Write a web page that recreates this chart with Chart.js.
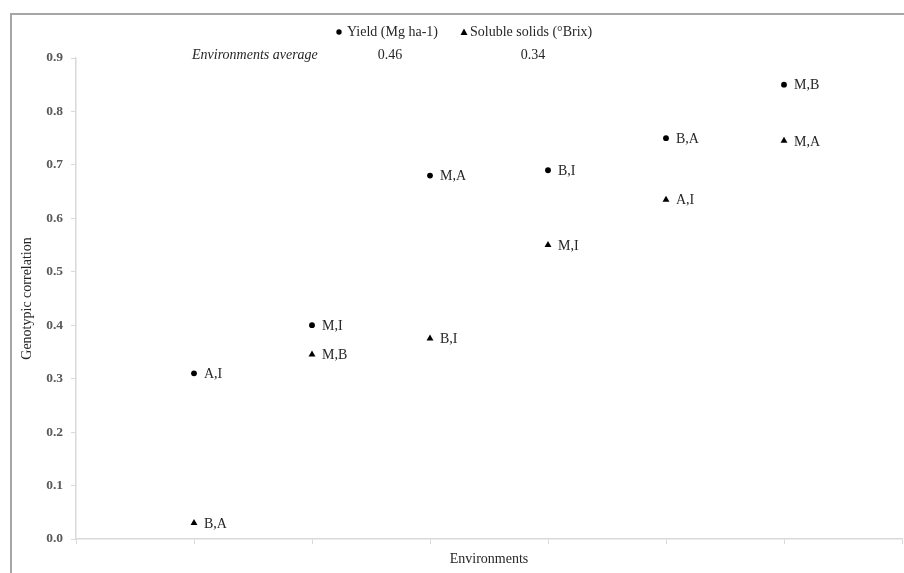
<!DOCTYPE html>
<html>
<head>
<meta charset="utf-8">
<script src="https://cdn.jsdelivr.net/npm/chart.js@4.4.1/dist/chart.umd.min.js"></script>
<style>
    html, body { margin: 0; padding: 0; background: #fff; overflow: hidden; }
    #moldura {
        position: absolute; left: 10px; top: 13px; width: 1000px; height: 700px;
        border-top: 2px solid #a6a6a6; border-left: 2px solid #a6a6a6;
    }
    #wrap { position: absolute; left: 0; top: 0; width: 906px; height: 573px; }
</style>
</head>
<body>
<div id="moldura"></div>
<div id="wrap"><canvas id="grafico"></canvas></div>
<script>
// Ambientes no eixo x (posições 1..6)
const posicoes = [1, 2, 3, 4, 5, 6];

// Produtividade (Mg ha-1)
const rotulosProd = ['A,I', 'M,I', 'M,A', 'B,I', 'B,A', 'M,B'];
const valoresProd = [0.31, 0.40, 0.68, 0.69, 0.75, 0.85];

// Sólidos solúveis (°Brix)
const rotulosBrix = ['B,A', 'M,B', 'B,I', 'M,I', 'A,I', 'M,A'];
const valoresBrix = [0.03, 0.345, 0.375, 0.55, 0.635, 0.745];

// Média dos ambientes
const mediaProd = '0.46';
const mediaBrix = '0.34';

const fonteSerif = 'Liberation Serif, Times New Roman, serif';
const corTexto = '#262626';
const corEixo = '#d9d9d9';

// Rótulos ao lado de cada ponto
const pluginRotulos = {
    id: 'rotulos',
    afterDatasetsDraw(chart) {
        const ctx = chart.ctx;
        ctx.save();
        ctx.font = '14px ' + fonteSerif;
        ctx.fillStyle = corTexto;
        ctx.textAlign = 'left';
        ctx.textBaseline = 'middle';
        chart.data.datasets.forEach((ds, i) => {
            const meta = chart.getDatasetMeta(i);
            meta.data.forEach((pt, j) => {
                ctx.fillText(ds.rotulos[j], pt.x + 10, pt.y + 1);
            });
        });
        ctx.restore();
    }
};

// Legenda e linha de médias no topo
const pluginLegenda = {
    id: 'legendaTopo',
    afterDraw(chart) {
        const ctx = chart.ctx;
        ctx.save();
        ctx.fillStyle = '#000';
        // círculo
        ctx.beginPath();
        ctx.arc(339, 32, 2.7, 0, Math.PI * 2);
        ctx.fill();
        // triângulo
        ctx.beginPath();
        ctx.moveTo(464, 28.5);
        ctx.lineTo(467.5, 35);
        ctx.lineTo(460.5, 35);
        ctx.closePath();
        ctx.fill();

        ctx.fillStyle = corTexto;
        ctx.font = '14px ' + fonteSerif;
        ctx.textBaseline = 'middle';
        ctx.textAlign = 'left';
        ctx.fillText('Yield (Mg ha-1)', 347, 32);
        ctx.fillText('Soluble solids (°Brix)', 470, 32);

        ctx.textAlign = 'center';
        ctx.fillText(mediaProd, 390, 55);
        ctx.fillText(mediaBrix, 533, 55);

        ctx.textAlign = 'left';
        ctx.font = 'italic 14px ' + fonteSerif;
        ctx.fillText('Environments average', 192, 55);
        ctx.restore();
    }
};

const ctx = document.getElementById('grafico').getContext('2d');
new Chart(ctx, {
    type: 'scatter',
    data: {
        datasets: [
            {
                label: 'Yield (Mg ha-1)',
                data: posicoes.map((x, i) => ({ x: x, y: valoresProd[i] })),
                rotulos: rotulosProd,
                pointStyle: 'circle',
                pointRadius: 2.9,
                backgroundColor: '#000',
                borderColor: '#000',
                borderWidth: 0
            },
            {
                label: 'Soluble solids (°Brix)',
                data: posicoes.map((x, i) => ({ x: x, y: valoresBrix[i] })),
                rotulos: rotulosBrix,
                pointStyle: 'triangle',
                pointRadius: 4,
                backgroundColor: '#000',
                borderColor: '#000',
                borderWidth: 0
            }
        ]
    },
    options: {
        responsive: true,
        maintainAspectRatio: false,
        animation: false,
        layout: { padding: { top: 58, left: 0, right: 0, bottom: 0 } },
        plugins: {
            legend: { display: false },
            tooltip: { enabled: false }
        },
        scales: {
            x: {
                type: 'linear',
                min: 0,
                max: 7,
                ticks: { stepSize: 1, display: false },
                grid: { drawOnChartArea: false, color: corEixo, tickLength: 5 },
                border: { color: corEixo, width: 1.5 },
                title: {
                    display: true,
                    text: 'Environments',
                    color: corTexto,
                    font: { family: fonteSerif, size: 14 },
                    padding: { top: 0, bottom: 5 }
                },
                afterFit(scale) { scale.height = 34; }
            },
            y: {
                min: 0,
                max: 0.9,
                ticks: {
                    stepSize: 0.1,
                    color: '#595959',
                    padding: 8,
                    font: { family: fonteSerif, size: 13.5, weight: 'bold' },
                    callback: v => v.toFixed(1)
                },
                grid: { drawOnChartArea: false, color: corEixo, tickLength: 5 },
                border: { color: corEixo, width: 1.5 },
                title: {
                    display: true,
                    text: 'Genotypic correlation',
                    color: corTexto,
                    font: { family: fonteSerif, size: 14 },
                    padding: { top: 19, bottom: 0 }
                },
                afterFit(scale) { scale.width = 76; }
            }
        }
    },
    plugins: [pluginRotulos, pluginLegenda]
});
</script>
</body>
</html>
